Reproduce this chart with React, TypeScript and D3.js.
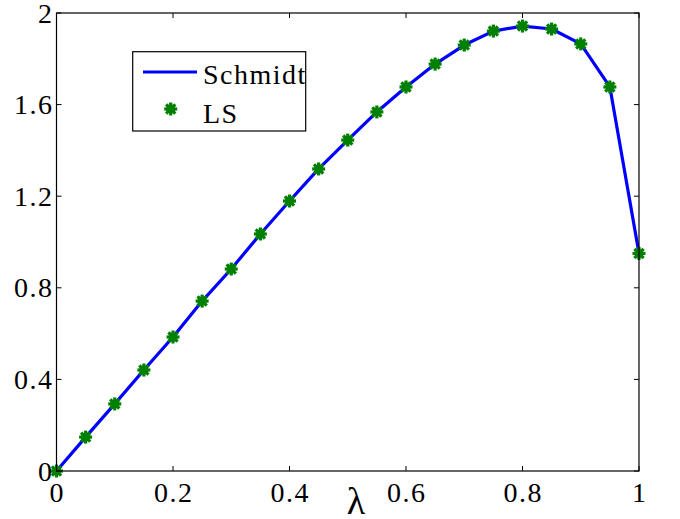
import React from "react";
import * as d3 from "d3";

const lambdaValues = [0, 0.05, 0.1, 0.15, 0.2, 0.25, 0.3, 0.35, 0.4, 0.45, 0.5, 0.55, 0.6, 0.65, 0.7, 0.75, 0.8, 0.85, 0.9, 0.95, 1.0];
const schmidtValues = [0, 0.148, 0.293, 0.441, 0.585, 0.742, 0.882, 1.035, 1.179, 1.319, 1.445, 1.568, 1.677, 1.777, 1.86, 1.921, 1.943, 1.93, 1.865, 1.677, 0.95];
const lsValues = [0, 0.148, 0.293, 0.441, 0.585, 0.742, 0.882, 1.035, 1.179, 1.319, 1.445, 1.568, 1.677, 1.777, 1.86, 1.921, 1.943, 1.93, 1.865, 1.677, 0.95];
const xTicks = [0, 0.2, 0.4, 0.6, 0.8, 1];
const yTicks = [0, 0.4, 0.8, 1.2, 1.6, 2];
const seriesNames = ["Schmidt", "LS"];

const W = 680, H = 519;
const L = 56.5, R = 639, T = 13, B = 471;
const FONT = "Liberation Serif, DejaVu Serif, serif";

function Asterisk({ cx, cy }: { cx: number; cy: number }) {
  const r = 6.5;
  const angles = [0, 45, 90, 135];
  return (
    <g transform={`translate(${cx},${cy})`}>
      <circle r={4.5} fill="#008000" />
      {angles.map((a) => {
        const rad = (a * Math.PI) / 180;
        return (
          <line key={a} x1={-r * Math.cos(rad)} y1={-r * Math.sin(rad)} x2={r * Math.cos(rad)} y2={r * Math.sin(rad)}
            stroke="#008000" strokeWidth={3.2} />
        );
      })}
    </g>
  );
}

export default function App() {
  const x = d3.scaleLinear().domain([0, 1]).range([L, R]);
  const y = d3.scaleLinear().domain([0, 2]).range([B, T]);
  const line = d3.line<number>().x((_, i) => x(lambdaValues[i])).y((d) => y(d));
  const tl = 5;
  const ts = { fontFamily: FONT, fontSize: "28px", letterSpacing: "1.5px" };
  return (
    <svg width={W} height={H} style={{ position: "absolute", left: 0, top: 0 }}>
      <rect x={0} y={0} width={W} height={H} fill="#fff" />
      <path d={line(schmidtValues) || ""} fill="none" stroke="#0000ff" strokeWidth={3.2} strokeLinejoin="round" />
      {lsValues.map((v, i) => (
        <Asterisk key={i} cx={x(lambdaValues[i])} cy={y(v)} />
      ))}
      <rect x={L} y={T} width={R - L} height={B - T} fill="none" stroke="#000" strokeWidth={1.2} />
      {xTicks.map((t) => (
        <g key={"x" + t}>
          <line x1={x(t)} x2={x(t)} y1={B} y2={B - tl} stroke="#000" strokeWidth={1} />
          <line x1={x(t)} x2={x(t)} y1={T} y2={T + tl} stroke="#000" strokeWidth={1} />
          <text x={x(t) + 0.75} y={501.5} textAnchor="middle" style={ts}>{String(t)}</text>
        </g>
      ))}
      {yTicks.map((t) => (
        <g key={"y" + t}>
          <line x1={L} x2={L + tl} y1={y(t)} y2={y(t)} stroke="#000" strokeWidth={1} />
          <line x1={R} x2={R - tl} y1={y(t)} y2={y(t)} stroke="#000" strokeWidth={1} />
          <text x={53.5} y={y(t) + 9.5} textAnchor="end" style={ts}>{String(t)}</text>
        </g>
      ))}
      <text x={356} y={514} textAnchor="middle" style={{ fontFamily: FONT, fontSize: "38px" }}>λ</text>
      <g>
        <rect x={132.7} y={51.7} width={173} height={79.3} fill="#fff" stroke="#000" strokeWidth={1.2} />
        <line x1={143} x2={197} y1={72} y2={72} stroke="#0000ff" strokeWidth={3.2} />
        <text x={203} y={84} style={ts}>{seriesNames[0]}</text>
        <Asterisk cx={170.7} cy={109} />
        <text x={203} y={122.5} style={ts}>{seriesNames[1]}</text>
      </g>
    </svg>
  );
}
